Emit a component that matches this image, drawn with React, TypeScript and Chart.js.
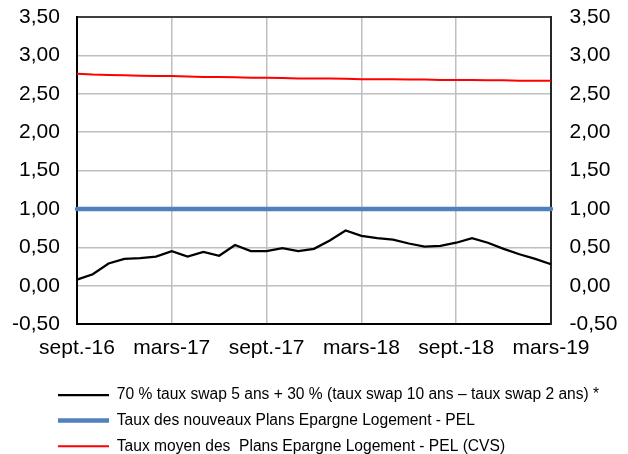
import { useEffect, useRef } from 'react';
import { Chart, registerables } from 'chart.js';

Chart.register(...registerables);

const categories = [
  'sept.-16', 'oct.-16', 'nov.-16', 'déc.-16', 'janv.-17', 'févr.-17',
  'mars-17', 'avr.-17', 'mai-17', 'juin-17', 'juil.-17', 'août-17',
  'sept.-17', 'oct.-17', 'nov.-17', 'déc.-17', 'janv.-18', 'févr.-18',
  'mars-18', 'avr.-18', 'mai-18', 'juin-18', 'juil.-18', 'août-18',
  'sept.-18', 'oct.-18', 'nov.-18', 'déc.-18', 'janv.-19', 'févr.-19',
  'mars-19',
];

const xTickLabels = ['sept.-16', 'mars-17', 'sept.-17', 'mars-18', 'sept.-18', 'mars-19'];

const swapMix = [
  0.08, 0.15, 0.29, 0.35, 0.36, 0.38, 0.45, 0.38, 0.44, 0.39, 0.53, 0.45,
  0.45, 0.49, 0.45, 0.48, 0.59, 0.72, 0.65, 0.62, 0.60, 0.55, 0.51, 0.52,
  0.56, 0.62, 0.56, 0.48, 0.41, 0.35, 0.28,
];

const pelNew = [
  1, 1, 1, 1, 1, 1, 1, 1, 1, 1, 1, 1, 1, 1, 1, 1,
  1, 1, 1, 1, 1, 1, 1, 1, 1, 1, 1, 1, 1, 1, 1,
];

const pelAvg = [
  2.76, 2.75, 2.745, 2.74, 2.735, 2.73, 2.73, 2.725, 2.72, 2.72, 2.715, 2.71,
  2.71, 2.705, 2.70, 2.70, 2.70, 2.695, 2.69, 2.69, 2.69, 2.685, 2.685, 2.68,
  2.68, 2.68, 2.675, 2.675, 2.67, 2.67, 2.67,
];

const seriesNames = [
  '70 % taux swap 5 ans + 30 % (taux swap 10 ans – taux swap 2 ans) *',
  'Taux des nouveaux Plans Epargne Logement - PEL',
  'Taux moyen des  Plans Epargne Logement - PEL (CVS)',
];

const Y_MIN = -0.5;
const Y_MAX = 3.5;
const Y_STEP = 0.5;

const FONT = "'Liberation Sans', Arial, sans-serif";

const fmt = (v: number) => v.toFixed(2).replace('.', ',');

const legendShift = {
  id: 'legendShift',
  afterLayout(chart: any) {
    const lg = chart.legend;
    if (lg) {
      const h = lg.height;
      lg.left = 48;
      lg.top = 377.2;
      lg.bottom = lg.top + h;
    }
  },
};

export default function App() {
  const ref = useRef<HTMLCanvasElement | null>(null);

  useEffect(() => {
    if (!ref.current) return;
    Chart.defaults.font.family = FONT;
    const chart = new Chart(ref.current, {
      type: 'line',
      data: {
        labels: categories,
        datasets: [
          {
            label: seriesNames[0],
            data: swapMix,
            borderColor: '#000000',
            backgroundColor: '#000000',
            borderWidth: 2.25,
            pointRadius: 0,
            tension: 0,
          },
          {
            label: seriesNames[1],
            data: pelNew,
            borderColor: '#4F81BD',
            backgroundColor: '#4F81BD',
            borderWidth: 4.5,
            borderCapStyle: 'round',
            pointRadius: 0,
            tension: 0,
          },
          {
            label: seriesNames[2],
            data: pelAvg,
            borderColor: '#FF0000',
            backgroundColor: '#FF0000',
            borderWidth: 2,
            pointRadius: 0,
            tension: 0,
          },
        ],
      },
      options: {
        responsive: false,
        animation: false,
        layout: { autoPadding: false, padding: { left: 9.1, right: 7.6, top: 17, bottom: 0 } },
        plugins: {
          tooltip: { enabled: false },
          legend: {
            position: 'bottom',
            align: 'start',
            maxHeight: 80.9,
            labels: {
              usePointStyle: true,
              pointStyle: 'line',
              pointStyleWidth: 51,
              padding: 10,
              color: '#000000',
              font: { size: 15.6, family: FONT },
            },
          },
        },
        scales: {
          x: {
            type: 'category',
            offset: false,
            grid: {
              drawTicks: false,
              lineWidth: 1.5,
              color: (ctx: any) => {
                const lab = categories[ctx.index];
                if (ctx.index === 0 || ctx.index === categories.length - 1) return 'rgba(0,0,0,0)';
                return xTickLabels.includes(lab) ? '#BFBFBF' : 'rgba(0,0,0,0)';
              },
            },
            border: { display: true, color: '#000000', width: 2 },
            ticks: {
              autoSkip: false,
              maxRotation: 0,
              minRotation: 0,
              padding: 11.9,
              color: '#000000',
              font: { size: 21, family: FONT },
              callback: (_v: any, i: number) => (xTickLabels.includes(categories[i]) ? categories[i] : ''),
            },
          },
          y: {
            type: 'linear',
            position: 'left',
            min: Y_MIN,
            max: Y_MAX,
            grid: {
              drawTicks: true,
              tickLength: 14,
              tickColor: 'rgba(0,0,0,0)',
              lineWidth: (ctx: any) => (ctx.tick && ctx.tick.value === Y_MAX ? 2 : 1.5),
              color: (ctx: any) => {
                if (!ctx.tick) return '#BFBFBF';
                if (ctx.tick.value === Y_MIN) return 'rgba(0,0,0,0)';
                if (ctx.tick.value === Y_MAX) return '#404040';
                return '#BFBFBF';
              },
            },
            border: { display: true, color: '#000000', width: 2 },
            ticks: {
              stepSize: Y_STEP,
              padding: 3,
              color: '#000000',
              font: { size: 21, family: FONT },
              callback: (v: any) => fmt(Number(v)),
            },
          },
          y2: {
            type: 'linear',
            position: 'right',
            min: Y_MIN,
            max: Y_MAX,
            grid: {
              drawOnChartArea: false,
              drawTicks: true,
              tickLength: 15.5,
              tickColor: 'rgba(0,0,0,0)',
            },
            border: { display: true, color: '#262626', width: 2 },
            ticks: {
              stepSize: Y_STEP,
              padding: 3,
              color: '#000000',
              font: { size: 21, family: FONT },
              callback: (v: any) => fmt(Number(v)),
            },
          },
        },
      },
      plugins: [legendShift],
    } as any);
    return () => chart.destroy();
  }, []);

  return (
    <div style={{ position: 'absolute', left: 0, top: 0, width: 628, height: 454 }}>
      <canvas ref={ref} width={628} height={454} />
    </div>
  );
}
